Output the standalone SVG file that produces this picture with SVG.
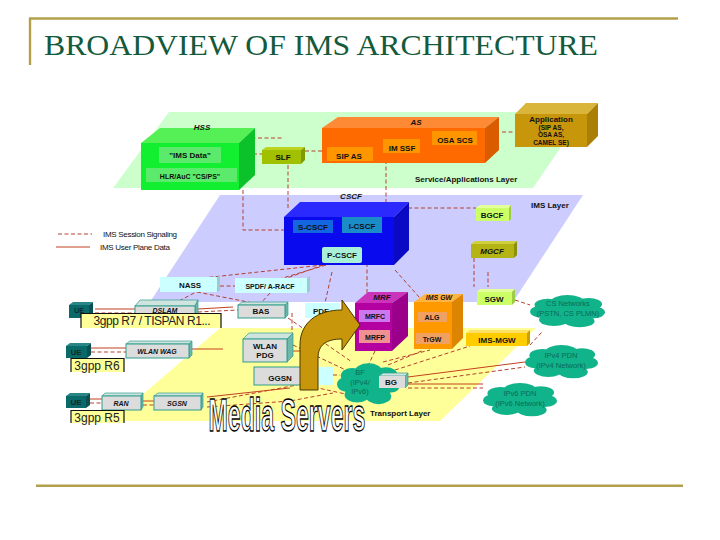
<svg xmlns="http://www.w3.org/2000/svg" width="720" height="540" viewBox="0 0 720 540">
<style>
text{font-family:"Liberation Sans",Arial,sans-serif;font-size:8px;font-weight:bold;fill:#111;text-anchor:middle}
.i{font-style:italic}
.n{font-weight:normal}
.l{text-anchor:start}
.t{font-family:"Liberation Serif","Times New Roman",serif;font-size:30px;font-weight:normal;fill:#145a3c;text-anchor:start}
.c{fill:#0b6b58;font-weight:normal;font-size:7.500px}
.y{font-size:12px;font-weight:normal;fill:#222}
.f{fill:none;stroke:#b3a04a;stroke-width:2.4}
.d{fill:none;stroke:#b5402f;stroke-width:1;stroke-dasharray:4 2.5}
.s{fill:none;stroke:#c2401f;stroke-width:1}
.g{fill:#dcdcdc;stroke:#2f9d8c;stroke-width:1}
.gt{fill:#cfe4de;stroke:#2f9d8c;stroke-width:.7}
.gs{fill:#6cb9ac;stroke:#2f9d8c;stroke-width:.7}
.cl{fill:#11b38a}
.lb{fill:#ffff99;stroke:none}
.lbb{fill:none;stroke:#111;stroke-width:1.2}
.sm{font-size:6.500px}
</style>
<defs>
<g id="cloud">
<ellipse cx="50" cy="50" rx="44" ry="34"/><ellipse cx="24" cy="32" rx="18" ry="18"/><ellipse cx="50" cy="22" rx="22" ry="19"/><ellipse cx="78" cy="30" rx="18" ry="18"/><ellipse cx="14" cy="52" rx="14" ry="17"/><ellipse cx="86" cy="54" rx="14" ry="17"/><ellipse cx="32" cy="76" rx="20" ry="18"/><ellipse cx="66" cy="80" rx="20" ry="18"/>
</g>
</defs>
<path class="f" d="M29 18.500H678M30 18V65M36 485.700H683"/>
<text class="t" x="44" y="55" textLength="554" lengthAdjust="spacingAndGlyphs">BROADVIEW OF IMS ARCHITECTURE</text>
<g id="planes">
<polygon points="169,112 585,112 533,188 113,188" fill="#ccffcc"/>
<polygon points="220,195 583,195 513,302 150,302" fill="#ccccff"/>
<polygon points="220,328 536,328 440,421 112,421" fill="#ffff99"/>
</g>
<g id="connectors">
<path class="d" d="M245 138H282M240 154H262M305 151H322M288 165V208M243 190V230H284M386 160V207M333 226H342M353 233V247M408 208H476M502 132H515"/>
<path class="d" d="M474 258V287M488 272V287M323 265L203 278M323 265L287 278M326 265L233 293M332 272L325 303M367 263V293M395 270L420 298M373 322V330M431 322V333"/>
<path class="d" d="M220 286H235M200 290L177 302M197 292L253 303M270 293L262 302M288 318L352 362M292 313V333M293 345L350 372M333 375H340"/>
<path class="d" d="M95 313H135M198 312L238 310M91 352H126M90 403H102M143 405H154"/>
<path class="d" d="M207 402L297 385M207 407L290 401L333 393M350 395L318 388M375 351L367 368M383 362L430 350M388 365L424 350M395 370L470 346M530 345L542 332M515 300L530 305M408 383L525 367M408 388H483"/>
<path class="s" d="M95 309H135M198 309L233 307M91 348H126M192 349H223M293 351H300M90 399H102M143 401H154M207 397L290 388M408 377L525 362M408 384H483"/>
<path class="d" d="M58 234H92"/>
<path class="s" d="M56 247H90"/>
</g>
<g id="legend">
<text class="n l" x="103" y="237" textLength="74">IMS Session Signaling</text>
<text class="n l" x="100" y="250" textLength="70">IMS User Plane Data</text>
</g>
<g id="hss">
<polygon points="141,143 160,128 255,128 239,143" fill="#55f055"/>
<polygon points="239,143 255,128 255,175 239,190" fill="#0cc22a"/>
<rect x="141" y="143" width="98" height="47" fill="#12ee30"/>
<rect x="159" y="147" width="62" height="16" fill="#5bea6b"/>
<rect x="146" y="168" width="91" height="14" fill="#5bea6b"/>
<text class="i" x="202" y="130">HSS</text>
<text x="190" y="158">"IMS Data"</text>
<text x="190" y="179" style="font-size:7px">HLR/AuC "CS/PS"</text>
</g>
<g id="slf">
<polygon points="262,150 266,147 305,147 301,150" fill="#bcd420"/>
<polygon points="301,150 305,147 305,160 301,164" fill="#7e9a00"/>
<rect x="262" y="150" width="39" height="14" fill="#a0c000"/>
<text x="283" y="160">SLF</text>
</g>
<g id="as">
<polygon points="322,128 338,117 499,117 485,128" fill="#ff8a35"/>
<polygon points="485,128 499,117 499,150 485,163" fill="#d95c00"/>
<rect x="322" y="128" width="163" height="35" fill="#ff6a00"/>
<rect x="327" y="147" width="46" height="14" fill="#ff9600"/>
<rect x="383" y="139" width="37" height="14" fill="#ff9600"/>
<rect x="432" y="131" width="45" height="14" fill="#ff9600"/>
<text class="i" x="416" y="125">AS</text>
<text x="349" y="159">SIP AS</text>
<text x="402" y="151">IM SSF</text>
<text x="455" y="143">OSA SCS</text>
</g>
<g id="application">
<polygon points="515,114 526,103 598,103 587,114" fill="#d9b53c"/>
<polygon points="587,114 598,103 598,136 587,147" fill="#a97f05"/>
<rect x="515" y="114" width="72" height="33" fill="#c8960a"/>
<text x="551" y="122">Application</text>
<text class="sm" x="551" y="129.500">(SIP AS,</text>
<text class="sm" x="551" y="137">OSA AS,</text>
<text class="sm" x="551" y="144.500">CAMEL SE)</text>
</g>
<text class="l" x="415" y="182">Service/Applications Layer</text>
<text class="l" x="531" y="208">IMS Layer</text>
<g id="cscf">
<polygon points="284,217 300,202 409,202 394,217" fill="#2a2aff"/>
<polygon points="394,217 409,202 409,250 394,265" fill="#0a0ac4"/>
<rect x="284" y="217" width="110" height="48" fill="#0a0aee"/>
<rect x="293" y="220" width="40" height="13" fill="#1466e0"/>
<rect x="342" y="217" width="40" height="16" fill="#1a8cc8"/>
<rect x="322" y="247" width="40" height="16" rx="2" fill="#a8f0d8"/>
<text class="i" x="351" y="199">CSCF</text>
<text x="313" y="230">S-CSCF</text>
<text x="362" y="229">I-CSCF</text>
<text x="342" y="258">P-CSCF</text>
</g>
<g id="bgcf">
<polygon points="476,208 480,205 511,205 509,208" fill="#e2ff99"/>
<polygon points="509,208 511,205 511,219 509,221" fill="#9ecc44"/>
<rect x="476" y="208" width="33" height="13" fill="#ccff66"/>
<text x="492" y="218">BGCF</text>
</g>
<g id="mgcf">
<polygon points="471,244 475,241 517,241 514,244" fill="#cfcf40"/>
<polygon points="514,244 517,241 517,255 514,258" fill="#8f8f08"/>
<rect x="471" y="244" width="43" height="14" fill="#b4b414"/>
<text class="i" x="492" y="254">MGCF</text>
</g>
<g id="nass">
<rect x="160" y="277" width="57" height="15" fill="#ccffff"/>
<polygon points="217,277 220,275 220,290 217,292" fill="#9cc"/>
<text x="190" y="288">NASS</text>
</g>
<g id="spdf">
<rect x="235" y="278" width="72" height="15" fill="#ccffff"/>
<polygon points="307,278 310,276 310,291 307,293" fill="#9cc"/>
<text x="270" y="289" style="font-size:7px">SPDF/ A-RACF</text>
</g>
<g id="ue1">
<polygon points="69,305 73,302 93,302 89,305" fill="#2a8585"/>
<polygon points="89,305 93,302 93,315 89,318" fill="#0a5050"/>
<rect x="69" y="305" width="20" height="13" fill="#0a6a6a"/>
<text x="79" y="312.500" style="fill:#0a2a2a;font-size:7px">UE</text>
</g>
<g id="dslam">
<polygon points="135,306 140,300 198,300 195,306" class="gt"/>
<polygon points="195,306 198,300 198,315 195,320" class="gs"/>
<rect x="135" y="306" width="60" height="14" class="g"/>
<text class="i" x="165" y="312.500" style="font-size:7px">DSLAM</text>
</g>
<g id="r7">
<rect x="81" y="313" width="140" height="15" class="lb"/>
<path class="lbb" d="M81 328V313.500H221V328"/>
<text class="y" x="152" y="325" textLength="117">3gpp R7 / TISPAN R1...</text>
</g>
<g id="bas">
<polygon points="238,305 242,302 288,302 285,305" class="gt"/>
<polygon points="285,305 288,302 288,315 285,318" class="gs"/>
<rect x="238" y="305" width="47" height="13" class="g"/>
<text x="261" y="314">BAS</text>
</g>
<g id="pdf">
<rect x="305" y="303" width="35" height="15" fill="#ccffff"/>
<text x="321" y="314">PDF</text>
</g>
<g id="ue2">
<polygon points="66,346 70,343 91,343 87,346" fill="#2a8585"/>
<polygon points="87,346 91,343 91,355 87,358" fill="#0a5050"/>
<rect x="66" y="346" width="21" height="12" fill="#0a6a6a"/>
<text x="76" y="355" style="fill:#0a2a2a">UE</text>
</g>
<g id="wag">
<polygon points="126,344 130,341 192,341 189,344" class="gt"/>
<polygon points="189,344 192,341 192,355 189,358" class="gs"/>
<rect x="126" y="344" width="63" height="14" class="g"/>
<text class="i" x="157" y="354" style="font-size:7px">WLAN WAG</text>
</g>
<g id="pdg">
<polygon points="243,339 249,333 293,333 287,339" class="gt"/>
<polygon points="287,339 293,333 293,356 287,362" class="gs"/>
<rect x="243" y="339" width="44" height="23" class="g"/>
<text x="265" y="349">WLAN</text>
<text x="265" y="358">PDG</text>
</g>
<g id="r6">
<rect x="71" y="358" width="53" height="14" class="lb"/>
<path class="lbb" d="M71 372V358.500H124V372"/>
<text class="y" x="97" y="370">3gpp R6</text>
</g>
<g id="ggsn">
<rect x="300" y="367" width="33" height="18" fill="#ccffff"/>
<rect x="254" y="367" width="60" height="18" class="g"/>
<text x="280" y="381">GGSN</text>
</g>
<g id="ue3">
<polygon points="66,396 70,393 90,393 86,396" fill="#2a8585"/>
<polygon points="86,396 90,393 90,405 86,408" fill="#0a5050"/>
<rect x="66" y="396" width="20" height="12" fill="#0a6a6a"/>
<text x="76" y="405" style="fill:#0a2a2a">UE</text>
</g>
<g id="ran">
<polygon points="102,396 105,393 143,393 141,396" class="gt"/>
<polygon points="141,396 143,393 143,407 141,410" class="gs"/>
<rect x="102" y="396" width="39" height="14" class="g"/>
<text class="i" x="121" y="406" style="font-size:7px">RAN</text>
</g>
<g id="sgsn">
<polygon points="154,396 158,393 203,393 201,396" class="gt"/>
<polygon points="201,396 203,393 203,407 201,410" class="gs"/>
<rect x="154" y="396" width="47" height="14" class="g"/>
<text class="i" x="177" y="406" style="font-size:7px">SGSN</text>
</g>
<g id="r5">
<rect x="71" y="410" width="53" height="13" class="lb"/>
<path class="lbb" d="M71 423V410.500H124V423"/>
<text class="y" x="97" y="422">3gpp R5</text>
</g>
<g id="mrf">
<polygon points="355,303 368,292 408,292 392,303" fill="#cc33bb"/>
<polygon points="392,303 408,292 408,336 392,351" fill="#9a008a"/>
<rect x="355" y="303" width="37" height="48" fill="#b400a0"/>
<rect x="359" y="310" width="31" height="12" fill="#cc77ee"/>
<rect x="359" y="330" width="31" height="13" fill="#f09090"/>
<text class="i" x="382" y="300">MRF</text>
<text x="375" y="319" style="font-size:7px">MRFC</text>
<text x="375" y="340" style="font-size:7px">MRFP</text>
</g>
<g id="imsgw">
<polygon points="414,302 425,294 463,294 452,302" fill="#ffb340"/>
<polygon points="452,302 463,294 463,338 452,349" fill="#dd8500"/>
<rect x="414" y="302" width="38" height="47" fill="#ff9900"/>
<rect x="418" y="312" width="29" height="10" fill="#f0a060"/>
<rect x="416" y="333" width="34" height="11" fill="#f0a060"/>
<text class="i" x="439" y="300" style="font-size:7px">IMS GW</text>
<text x="432" y="320" style="font-size:7px">ALG</text>
<text x="432" y="342" style="font-size:7px">TrGW</text>
</g>
<g id="sgw">
<polygon points="477,292 480,289 515,289 512,292" fill="#e2ff99"/>
<polygon points="512,292 515,289 515,302 512,305" fill="#9ecc44"/>
<rect x="477" y="292" width="35" height="13" fill="#ccff66"/>
<text x="494" y="302">SGW</text>
</g>
<g id="mgw">
<polygon points="466,333 470,330 530,330 527,333" fill="#ffe066"/>
<polygon points="527,333 530,330 530,343 527,346" fill="#c9a000"/>
<rect x="466" y="333" width="61" height="13" fill="#ffcc00"/>
<text x="497" y="343">IMS-MGW</text>
</g>
<g id="cs-networks">
<use href="#cloud" class="cl" transform="translate(530,294) scale(.75,.34)"/>
<text class="c" x="568" y="306">CS Networks</text>
<text class="c" x="568" y="315.500">(PSTN, CS PLMN)</text>
</g>
<g id="ipv4">
<use href="#cloud" class="cl" transform="translate(525,344) scale(.73,.35)"/>
<text class="c" x="561" y="358">IPv4 PDN</text>
<text class="c" x="561" y="367.500">(IPv4 Network)</text>
</g>
<g id="ipv6">
<use href="#cloud" class="cl" transform="translate(483,382) scale(.74,.35)"/>
<text class="c" x="520" y="396">IPv6 PDN</text>
<text class="c" x="520" y="405.500">(IPv6 Network)</text>
</g>
<g id="ip">
<use href="#cloud" class="cl" transform="translate(337,362) scale(.63,.43)"/>
<text class="c" x="360" y="375">BF</text>
<text class="c" x="360" y="384.500">(IPv4/</text>
<text class="c" x="360" y="394">IPv6)</text>
</g>
<g id="bg">
<polygon points="379,376 383,373 408,373 405,376" class="gt"/>
<polygon points="405,376 408,373 408,385 405,388" class="gs"/>
<rect x="379" y="376" width="26" height="12" fill="#dcdcdc"/>
<text x="391" y="385">BG</text>
</g>
<text class="l" x="370" y="416">Transport Layer</text>
<g id="arrow">
<path d="M300 390V345C300 322 318 310 342 310V300L360 325L342 350V339C326 339 318 345 318 358V390Z" fill="#c8960a" stroke="#4a3800" stroke-width="1"/>
</g>
<text id="media-servers" x="287" y="431" textLength="157" lengthAdjust="spacingAndGlyphs" style="font-size:46px;fill:#fff;stroke:#000;stroke-width:1.300">Media Servers</text>
</svg>
